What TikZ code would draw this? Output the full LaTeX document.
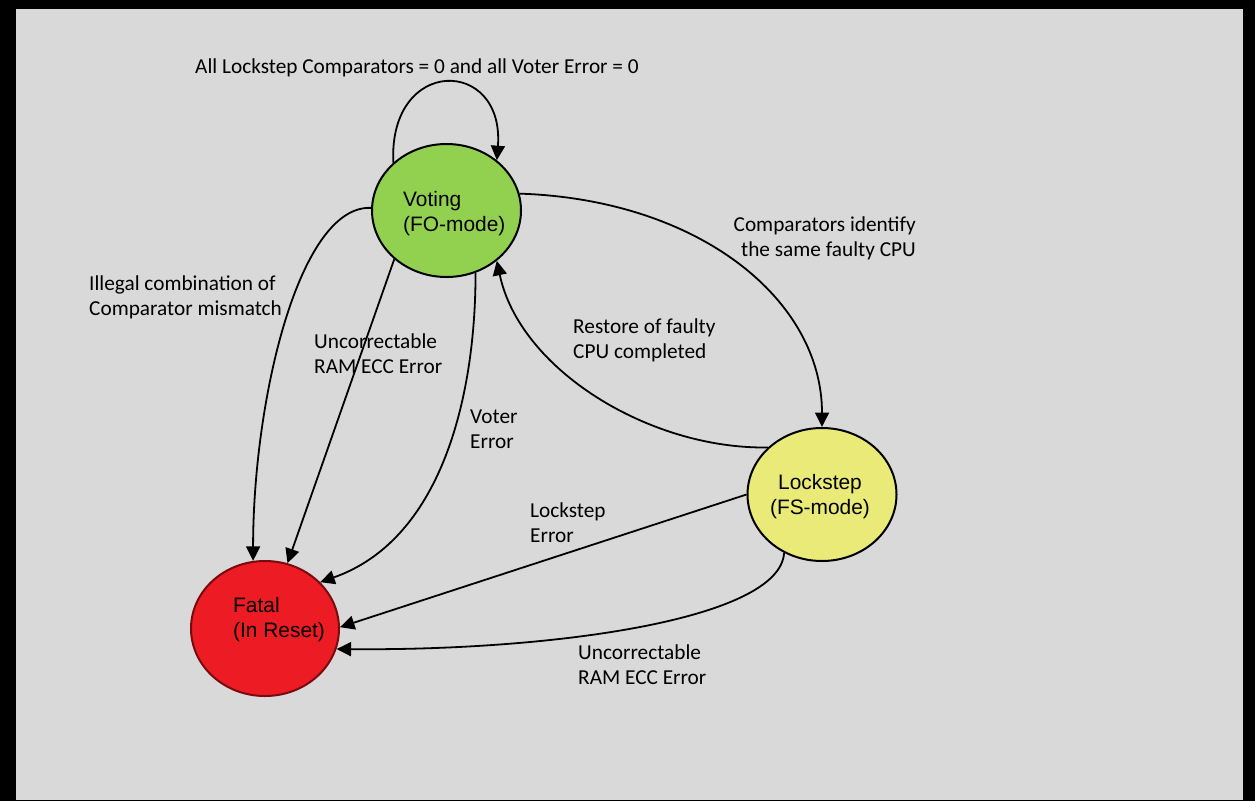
\documentclass[tikz,border=0pt]{standalone}
\usepackage{fontspec}
\setmainfont{Carlito}
\newfontfamily\statefont{Liberation Sans}
\usetikzlibrary{arrows.meta,shapes.geometric}
\definecolor{canvas}{HTML}{D9D9D9}
\definecolor{votegreen}{HTML}{92D050}
\definecolor{lockyellow}{HTML}{E9EA77}
\definecolor{fatalred}{HTML}{ED1C24}
\definecolor{fatalrim}{HTML}{7A0A0E}
\begin{document}
\begin{tikzpicture}[x=1pt,y=-1pt,
  state/.style={ellipse, draw=black, line width=2pt, minimum width=149pt, minimum height=133pt, inner sep=0pt},
  statetext/.style={font=\statefont\fontsize{20.9}{25}\selectfont, align=left, inner sep=0pt, anchor=base west},
  edgelabel/.style={font=\fontsize{21.3}{25}\selectfont, align=left, inner sep=0pt, anchor=base west},
  trans/.style={line width=1.8pt, -{Triangle[length=14.5pt,width=14pt]}},
]
% frame and canvas
\fill[black] (0,0) rectangle (1255,801);
\fill[canvas] (16,9) rectangle (1243,799.5);
\useasboundingbox (0,0) rectangle (1255,801);

% states
\node[state, fill=votegreen] (voting) at (446.5,210.5) {};
\node[state, fill=lockyellow] (lockstep) at (822,494.5) {};
\node[state, fill=fatalred, draw=fatalrim, minimum height=135pt, minimum width=148pt] (fatal) at (265,628.5) {};

% state names (anchored on the baseline of the last line)
\node[statetext] (votingtext) at (403,231) {Voting\\(FO-mode)};
\node[statetext, align=center, anchor=base] (locksteptext) at (820,514) {Lockstep\\(FS-mode)};
\node[statetext] (fataltext) at (233,637) {Fatal\\(In Reset)};

% transitions
\draw[trans] (voting.138) .. controls +(-5,-107) and +(8,-103) .. (voting.45);
\draw[trans] (voting.13) .. controls +(180,6) and +(0,-127) .. (lockstep.north);
\draw[trans] (lockstep.139) .. controls +(-118,2) and +(23,109) .. (voting.-45);
\draw[trans] (voting.178) .. controls +(-72,-3) and +(0,-161) .. (fatal.100);
\draw[trans] (voting.223) -- (fatal.71);
\draw[trans] (voting.-65) .. controls +(0,127) and +(120,-42) .. (fatal.40);
\draw[trans] (lockstep.180) -- (fatal.1);
\draw[trans] (lockstep.-123) .. controls +(-4,67) and +(214,2) .. (fatal.-16);

% transition labels
\node[edgelabel] (lblloop) at (195,73) {All Lockstep Comparators = 0 and all Voter Error = 0};
\node[edgelabel] (lblillegal) at (89,315) {Illegal combination of\\Comparator mismatch};
\node[edgelabel] (lbluncorrvote) at (314,373) {Uncorrectable\\RAM ECC Error};
\node[edgelabel, align=right, anchor=base east] (lblcompare) at (916,256) {Comparators identify\\the same faulty CPU};
\node[edgelabel] (lblrestore) at (573,358) {Restore of faulty\\CPU completed};
\node[edgelabel] (lblvoter) at (470,448) {Voter\\Error};
\node[edgelabel] (lbllockerr) at (530,542) {Lockstep\\Error};
\node[edgelabel] (lbluncorrlock) at (578,684) {Uncorrectable\\RAM ECC Error};
\end{tikzpicture}
\end{document}
